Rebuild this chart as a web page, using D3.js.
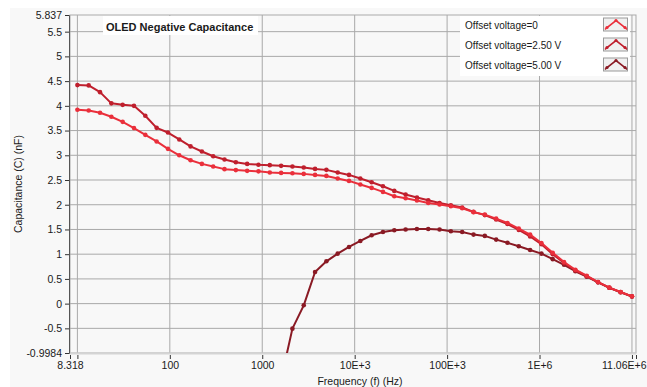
<!DOCTYPE html>
<html>
<head>
<meta charset="utf-8">
<script src="https://cdn.jsdelivr.net/npm/d3@7"></script>
<style>
  html, body { margin: 0; padding: 0; background: #ffffff; }
  svg { display: block; }
  text { font-family: "Liberation Sans", Arial, sans-serif; fill: #1a1a1a; }
</style>
</head>
<body>
<svg id="chart" width="647" height="387"></svg>
<script>
// Sweep frequencies (Hz), 50 log-spaced points from 10 Hz to 10 MHz
const frequency = [
  10, 13.257, 17.575, 23.300, 30.888, 40.949, 54.287, 71.969, 95.410, 126.49,
  167.68, 222.30, 294.71, 390.70, 517.95, 686.65, 910.30, 1206.8, 1599.9, 2121.0,
  2811.8, 3727.6, 4941.7, 6551.3, 8685.1, 11514, 15264, 20236, 26827, 35565,
  47149, 62506, 82864, 109854, 145635, 193070, 255955, 339322, 449843, 596362,
  790604, 1048113, 1389495, 1842070, 2442053, 3237458, 4291934, 5689866, 7543120, 10000000
];

// Capacitance (nF) for each offset voltage
const offset0 = [
  3.92, 3.907, 3.86, 3.78, 3.676, 3.55, 3.413, 3.28, 3.13, 3.00,
  2.90, 2.826, 2.773, 2.72, 2.70, 2.685, 2.675, 2.652, 2.644, 2.638,
  2.624, 2.603, 2.583, 2.53, 2.482, 2.41, 2.34, 2.26, 2.172, 2.13,
  2.085, 2.036, 2.004, 1.97, 1.93, 1.85, 1.80, 1.72, 1.632, 1.518,
  1.397, 1.227, 1.03, 0.84, 0.685, 0.565, 0.437, 0.324, 0.235, 0.148
];
const offset250 = [
  4.419, 4.413, 4.277, 4.05, 4.02, 4.00, 3.80, 3.555, 3.46, 3.32,
  3.18, 3.077, 2.98, 2.915, 2.86, 2.826, 2.81, 2.80, 2.786, 2.773,
  2.753, 2.725, 2.705, 2.652, 2.603, 2.53, 2.455, 2.374, 2.28, 2.206,
  2.146, 2.09, 2.036, 1.99, 1.943, 1.855, 1.79, 1.70, 1.61, 1.49,
  1.36, 1.20, 1.00, 0.82, 0.67, 0.555, 0.435, 0.322, 0.232, 0.146
];
// 5.00 V trace: earlier sweep points lie far below the visible range
const offset500 = [
  null, null, null, null, null, null, null, null, null, null,
  null, null, null, null, null, null, null, null, -1.53, -0.506,
  -0.034, 0.64, 0.856, 1.012, 1.146, 1.267, 1.383, 1.45, 1.484, 1.498,
  1.51, 1.51, 1.498, 1.464, 1.45, 1.396, 1.37, 1.295, 1.23, 1.16,
  1.085, 1.012, 0.90, 0.785, 0.655, 0.545, 0.43, 0.32, 0.23, 0.145
];

const seriesNames = ["Offset voltage=0", "Offset voltage=2.50 V", "Offset voltage=5.00 V"];
const seriesColors = ["#ea2f3b", "#bf1f2d", "#8a1a24"];

// Axis ticks and labels
const xMin = 8.318, xMax = 11.06e6;
const yMin = -0.9984, yMax = 5.837;
const xTickValues = [8.318, 10, 100, 1000, 1e4, 1e5, 1e6, 1e7, 11.06e6];
const xTickLabels = ["8.318", "", "100", "1000", "10E+3", "100E+3", "1E+6", "", "11.06E+6"];
const xGridValues = [10, 100, 1000, 1e4, 1e5, 1e6, 1e7];
const yTickValues = [5.837, 5.5, 5, 4.5, 4, 3.5, 3, 2.5, 2, 1.5, 1, 0.5, 0, -0.5, -0.9984];
const yTickLabels = ["5.837", "5.5", "5", "4.5", "4", "3.5", "3", "2.5", "2", "1.5", "1", "0.5", "0", "-0.5", "-0.9984"];
const yGridValues = [5.5, 5, 4.5, 4, 3.5, 3, 2.5, 2, 1.5, 1, 0.5, 0, -0.5];

const svg = d3.select("#chart");
const plot = { left: 70, right: 636, top: 15, bottom: 353 };

const x = d3.scaleLog().domain([xMin, xMax]).range([plot.left, plot.right]);
const y = d3.scaleLinear().domain([yMin, yMax]).range([plot.bottom, plot.top]);

// panel background
svg.append("rect").attr("x", 10).attr("y", 8).attr("width", 637).attr("height", 379)
  .attr("fill", "#f8f8f8");

const gridColor = "#a9a9a9";
const grid = svg.append("g");
grid.selectAll("line.gx").data(xGridValues).join("line")
  .attr("x1", d => x(d)).attr("x2", d => x(d))
  .attr("y1", plot.top).attr("y2", plot.bottom)
  .attr("stroke", gridColor).attr("stroke-width", 1);
grid.selectAll("line.gy").data(yGridValues).join("line")
  .attr("x1", plot.left).attr("x2", plot.right)
  .attr("y1", d => y(d)).attr("y2", d => y(d))
  .attr("stroke", gridColor).attr("stroke-width", 1);
grid.append("rect")
  .attr("x", plot.left).attr("y", plot.top)
  .attr("width", plot.right - plot.left).attr("height", plot.bottom - plot.top)
  .attr("fill", "none").attr("stroke", gridColor).attr("stroke-width", 1);
// light bottom edge
grid.append("line").attr("x1", plot.left).attr("x2", plot.right)
  .attr("y1", plot.bottom + 0.5).attr("y2", plot.bottom + 0.5)
  .attr("stroke", "#d4d4d4").attr("stroke-width", 2);

// axes
const yAxis = d3.axisLeft(y).tickValues(yTickValues)
  .tickFormat((d, i) => yTickLabels[i]).tickSize(4).tickPadding(3);
const gy = svg.append("g").attr("transform", `translate(${plot.left - 1},0)`).call(yAxis);
gy.select(".domain").attr("stroke", "#555");
gy.selectAll(".tick line").attr("stroke", "#333");
gy.selectAll("text").attr("font-size", 10.5).attr("fill", "#222")
  .attr("font-family", "Liberation Sans, Arial, sans-serif");

const xAxis = d3.axisBottom(x).tickValues(xTickValues)
  .tickFormat((d, i) => xTickLabels[i]).tickSize(4).tickPadding(3);
const gx = svg.append("g").attr("transform", `translate(0,${plot.bottom + 2})`).call(xAxis);
gx.select(".domain").remove();
gx.selectAll(".tick line").attr("stroke", "#333");
gx.selectAll("text").attr("font-size", 10.5).attr("fill", "#222")
  .attr("font-family", "Liberation Sans, Arial, sans-serif");
// keep the end-of-range label inside the window
gx.selectAll(".tick text").filter((d, i) => i === xTickValues.length - 1)
  .attr("text-anchor", "end").attr("dx", 646 - plot.right);

// axis titles
svg.append("text").attr("x", 360).attr("y", 385).attr("text-anchor", "middle")
  .attr("font-size", 10.5).text("Frequency (f) (Hz)");
svg.append("text").attr("transform", `translate(22,${(plot.top + plot.bottom) / 2}) rotate(-90)`)
  .attr("text-anchor", "middle").attr("font-size", 10.5).text("Capacitance (C) (nF)");

// data traces
svg.append("clipPath").attr("id", "plotClip").append("rect")
  .attr("x", plot.left).attr("y", plot.top)
  .attr("width", plot.right - plot.left).attr("height", plot.bottom - plot.top);

const allSeries = [offset0, offset250, offset500];
const line = d3.line()
  .defined(d => d.v !== null)
  .x(d => x(d.f)).y(d => y(d.v));
const traces = svg.append("g").attr("clip-path", "url(#plotClip)");
// draw 5.00 V first, then 2.50 V, then 0 on top
[2, 1, 0].forEach(si => {
  const pts = frequency.map((f, i) => ({ f, v: allSeries[si][i] }));
  const g = traces.append("g");
  g.append("path").datum(pts).attr("d", line)
    .attr("fill", "none").attr("stroke", seriesColors[si])
    .attr("stroke-width", 2).attr("stroke-linejoin", "round");
  g.selectAll("circle").data(pts.filter(d => d.v !== null)).join("circle")
    .attr("cx", d => x(d.f)).attr("cy", d => y(d.v)).attr("r", 2.3)
    .attr("fill", seriesColors[si]);
});

// title box
svg.append("rect").attr("x", 103).attr("y", 16).attr("width", 155).attr("height", 19)
  .attr("fill", "#ffffff");
svg.append("text").attr("x", 106).attr("y", 30.5).attr("font-size", 11)
  .attr("font-weight", "bold").attr("fill", "#111").text("OLED Negative Capacitance");

// legend
const legend = svg.append("g");
legend.append("rect").attr("x", 460).attr("y", 16).attr("width", 170).attr("height", 60)
  .attr("fill", "#ffffff");
seriesNames.forEach((name, i) => {
  const cy = 25 + i * 20;
  legend.append("text").attr("x", 465).attr("y", cy + 3.5).attr("font-size", 10)
    .attr("fill", "#111").text(name);
  const bx = 603, by = cy - 7.5;
  legend.append("rect").attr("x", bx + 0.5).attr("y", by + 0.5).attr("width", 24).attr("height", 13)
    .attr("fill", "#f0f0f0").attr("stroke", "#9a9a9a").attr("stroke-width", 1);
  const icon = [[bx + 2, by + 12], [bx + 4, by + 10], [bx + 13, by + 3], [bx + 22, by + 10], [bx + 24, by + 12]];
  legend.append("polyline").attr("points", icon.map(p => p.join(",")).join(" "))
    .attr("fill", "none").attr("stroke", seriesColors[i]).attr("stroke-width", 1.6);
  [icon[1], icon[2], icon[3]].forEach(p => {
    legend.append("circle").attr("cx", p[0]).attr("cy", p[1]).attr("r", 1.6)
      .attr("fill", seriesColors[i]);
  });
});
</script>
</body>
</html>
